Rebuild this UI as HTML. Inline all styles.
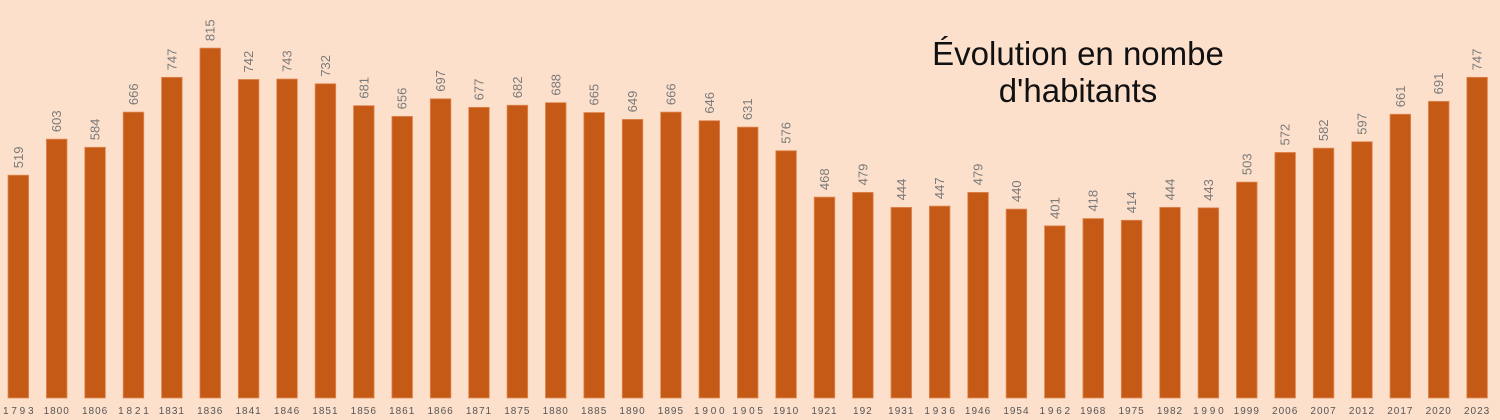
<!DOCTYPE html>
<html><head><meta charset="utf-8"><style>
html,body{margin:0;padding:0;background:#fde0cc;}
svg{display:block;}
</style></head><body>
<svg id="chart" width="1500" height="420" xmlns="http://www.w3.org/2000/svg">
<rect x="0" y="0" width="1500" height="420" fill="#fde0cc"/>
<text x="1078" y="65" text-anchor="middle" font-family="Liberation Sans, sans-serif" font-size="33" fill="#111">Évolution en nombe</text>
<text x="1078" y="102" text-anchor="middle" font-family="Liberation Sans, sans-serif" font-size="33" fill="#111">d'habitants</text>
<g id="bars"></g>
</svg>
<script>
const categories = ["1 7 9 3","1800","1806","1 8 2 1","1831","1836","1841","1846","1851","1856","1861","1866","1871","1875","1880","1885","1890","1895","1 9 0 0","1 9 0 5","1910","1921","192","1931","1 9 3 6","1946","1954","1 9 6 2","1968","1975","1982","1 9 9 0","1999","2006","2007","2012","2017","2020","2023"];
const values = [519,603,584,666,747,815,742,743,732,681,656,697,677,682,688,665,649,666,646,631,576,468,479,444,447,479,440,401,418,414,444,443,503,572,582,597,661,691,747];
const labels = values.map(String);

const NS = "http://www.w3.org/2000/svg";
const baseY = 398, scale = 0.4293, x0 = 8, step = 38.39, bw = 20.6;
function xPos(i){ return x0 + i*step; }
function yPos(v){ return baseY - v*scale; }
const g = document.getElementById('bars');
values.forEach((v,i)=>{
  const r = document.createElementNS(NS,'rect');
  
  
  r.setAttribute('x', xPos(i)); r.setAttribute('y', yPos(v));
  r.setAttribute('width', bw); r.setAttribute('height', baseY - yPos(v));
  r.setAttribute('fill', '#c55a17'); r.setAttribute('stroke', '#e08a55'); r.setAttribute('stroke-width', '0.8');
  g.appendChild(r);
  const t = document.createElementNS(NS,'text');
  
  
  const cx = xPos(i) + bw/2 + 4.5, cy = yPos(v) - 7;
  t.setAttribute('x', cx); t.setAttribute('y', cy);
  t.setAttribute('transform', 'rotate(-90 ' + cx + ' ' + cy + ')');
  t.setAttribute('font-family', 'Liberation Sans, sans-serif');
  t.setAttribute('font-size', '13'); t.setAttribute('fill', '#7a7a7a');
  t.textContent = labels[i];
  g.appendChild(t);
  const c = document.createElementNS(NS,'text');
  
  
  c.setAttribute('x', xPos(i) + bw/2); c.setAttribute('y', 414);
  c.setAttribute('text-anchor', 'middle');
  c.setAttribute('font-family', 'Liberation Sans, sans-serif');
  c.setAttribute('font-size', '10'); c.setAttribute('fill', '#555');
  c.setAttribute('letter-spacing', categories[i].includes(' ') ? '0' : '1');
  c.textContent = categories[i];
  g.appendChild(c);
});
</script>
</body></html>
